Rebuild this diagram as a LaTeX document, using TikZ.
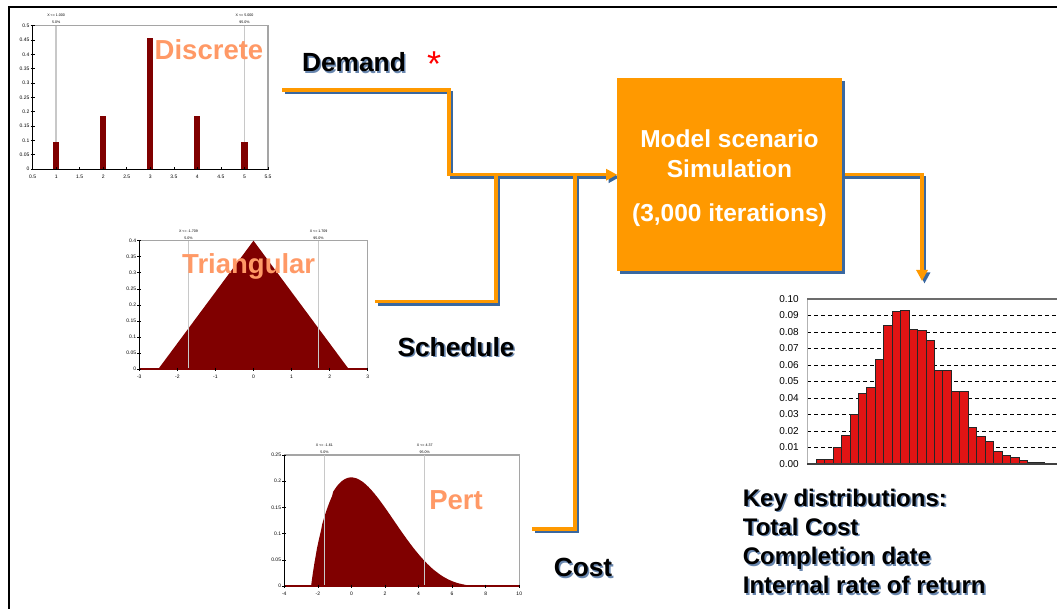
\documentclass[tikz,border=0pt]{standalone}
\usepackage{fontspec}
\setmainfont{Liberation Sans}
\usetikzlibrary{arrows.meta,shadows,backgrounds}
\definecolor{flow}{RGB}{255,153,0}
\definecolor{shade}{RGB}{58,104,160}
\definecolor{txtshade}{RGB}{105,135,175}
\definecolor{salmon}{RGB}{255,153,102}
\definecolor{dred}{RGB}{128,0,0}
\definecolor{hred}{RGB}{225,20,20}
\definecolor{pgray}{RGB}{200,200,200}
\definecolor{fgray}{RGB}{165,165,165}
\newcommand{\shtxt}[1]{\leavevmode\rlap{\kern1.6pt\raisebox{-1.6pt}{\textcolor{txtshade}{#1}}}#1}
\newcommand{\flowpaths}[2]{%
  \draw[#1,-{Triangle[length=11pt,width=11pt]}] ([#2]dsrc) -- ([#2]dturn) |- ([#2]model.west);
  \draw[#1] ([#2]ssrc) -| ([#2]sjoin);
  \draw[#1] ([#2]csrc) -| ([#2]cjoin);
  \draw[#1,-{Triangle[length=11pt,width=11pt]}] ([#2]model.east) -| ([#2]kout);
}
\begin{document}
\begin{tikzpicture}[x=1pt,y=-1pt,
  flowline/.style={draw=flow, line width=3.3pt},
  shadeline/.style={draw=shade, line width=3.3pt},
  lbl/.style={font=\fontsize{26.3}{30}\selectfont\bfseries, inner sep=0pt},
  keylbl/.style={font=\fontsize{24}{29.2}\selectfont\bfseries, inner sep=0pt},
  distlbl/.style={font=\fontsize{27.5}{30}\selectfont\bfseries, text=salmon, inner sep=0pt},
  ticklbl/.style={font=\fontsize{5}{6}\selectfont, inner sep=0.5pt},
  pctlbl/.style={font=\fontsize{3.6}{4}\selectfont, inner sep=0pt},
  histlbl/.style={font=\fontsize{10}{11}\selectfont, inner sep=0pt},
  axisline/.style={draw=black, line width=0.9pt},
  frameline/.style={draw=fgray, line width=1.2pt},
  pctline/.style={draw=pgray, line width=1.3pt},
  tickline/.style={draw=black, line width=0.6pt}
]
\useasboundingbox (0,0) rectangle (1057,609);
\draw[line width=2pt] (9,610) -- (9,7) -- (1058,7);

% ---------------- Discrete chart
\begin{scope}[shift={(9.06,169)}, x=47.08pt, y=286.6pt]
  \draw[frameline] (0.5,0.5) -- (5.5,0.5) -- (5.5,0);
  \foreach \p in {1,5} \draw[pctline] (\p,0) -- (\p,0.5);
  \foreach \p/\h in {1/0.093,2/0.184,3/0.457,4/0.184,5/0.093}
    \fill[dred] (\p-0.065,0) rectangle (\p+0.065,\h);
  \draw[axisline] (0.5,0.5) -- (0.5,0) -- (5.5,0);
  \foreach \v/\t [count=\i] in {0/0,0.05/0.05,0.1/0.1,0.15/0.15,0.2/0.2,0.25/0.25,0.3/0.3,0.35/0.35,0.4/0.4,0.45/0.45,0.5/0.5}{
    \draw[tickline] ([xshift=-2pt]0.5,\v) -- ([xshift=2pt]0.5,\v);
    \node[ticklbl, anchor=east] (dy\i) at ([xshift=-2.5pt]0.5,\v) {\t};}
  \foreach \v [count=\i] in {0.5,1,1.5,2,2.5,3,3.5,4,4.5,5,5.5}{
    \draw[tickline] ([yshift=1.5pt]\v,0) -- ([yshift=-1.5pt]\v,0);
    \node[ticklbl, anchor=north] (dx\i) at ([yshift=-5pt]\v,0) {\v};}
  \node[pctlbl] (dpa1) at ([yshift=10pt]1,0.5) {X <= 1.000};
  \node[pctlbl] (dpa2) at ([yshift=3pt]1,0.5) {5.0\%};
  \node[pctlbl] (dpb1) at ([yshift=10pt]5,0.5) {X <= 5.000};
  \node[pctlbl] (dpb2) at ([yshift=3pt]5,0.5) {95.0\%};
\end{scope}

% ---------------- Triangular chart
\begin{scope}[shift={(253.5,369)}, x=38.07pt, y=320.75pt]
  \draw[frameline] (-3,0.4) -- (3,0.4) -- (3,0);
  \fill[dred] (-2.5,0) -- (0,0.4) -- (2.5,0) -- cycle;
  \foreach \p in {-1.709,1.709} \draw[pctline] (\p,0) -- (\p,0.4);
  \draw[axisline] (-3,0.4) -- (-3,0);
  \draw[draw=dred, line width=1.2pt] (-3,0) -- (3,0);
  \foreach \v/\t [count=\i] in {0/0,0.05/0.05,0.1/0.1,0.15/0.15,0.2/0.2,0.25/0.25,0.3/0.3,0.35/0.35,0.4/0.4}{
    \draw[tickline] ([xshift=-2pt]-3,\v) -- ([xshift=2pt]-3,\v);
    \node[ticklbl, anchor=east] (ty\i) at ([xshift=-2.5pt]-3,\v) {\t};}
  \foreach \v [count=\i] in {-3,-2,-1,0,1,2,3}{
    \draw[tickline] ([yshift=1.5pt]\v,0) -- ([yshift=-1.5pt]\v,0);
    \node[ticklbl, anchor=north] (tx\i) at ([yshift=-5pt]\v,0) {\v};}
  \node[pctlbl] (tpa1) at ([yshift=9.5pt]-1.709,0.4) {X <= -1.709};
  \node[pctlbl] (tpa2) at ([yshift=2.8pt]-1.709,0.4) {5.0\%};
  \node[pctlbl] (tpb1) at ([yshift=9.5pt]1.709,0.4) {X <= 1.709};
  \node[pctlbl] (tpb2) at ([yshift=2.8pt]1.709,0.4) {95.0\%};
\end{scope}

% ---------------- Pert chart
\begin{scope}[shift={(351.4,586)}, x=16.786pt, y=524pt]
  \draw[frameline] (-4,0.25) -- (10,0.25) -- (10,0);
  \fill[dred] (-2.4,0) -- plot[domain=-2.39:7.99, samples=160]
     (\x,{exp(0.923*ln((\x+2.4)/10.4)+3.077*ln(1-(\x+2.4)/10.4))/0.556}) -- (8,0) -- cycle;
  \foreach \p in {-1.61,4.37} \draw[pctline] (\p,0) -- (\p,0.25);
  \draw[axisline] (-4,0.25) -- (-4,0);
  \draw[draw=dred, line width=1.2pt] (-4,0) -- (10,0);
  \foreach \v/\t [count=\i] in {0/0,0.05/0.05,0.1/0.1,0.15/0.15,0.2/0.2,0.25/0.25}{
    \draw[tickline] ([xshift=-2pt]-4,\v) -- ([xshift=2pt]-4,\v);
    \node[ticklbl, anchor=east] (py\i) at ([xshift=-2.5pt]-4,\v) {\t};}
  \foreach \v [count=\i] in {-4,-2,0,2,4,6,8,10}{
    \draw[tickline] ([yshift=1.5pt]\v,0) -- ([yshift=-1.5pt]\v,0);
    \node[ticklbl, anchor=north] (px\i) at ([yshift=-5pt]\v,0) {\v};}
  \node[pctlbl] (ppa1) at ([yshift=10pt]-1.61,0.25) {X <= -1.61};
  \node[pctlbl] (ppa2) at ([yshift=3pt]-1.61,0.25) {5.0\%};
  \node[pctlbl] (ppb1) at ([yshift=10pt]4.37,0.25) {X <= 4.37};
  \node[pctlbl] (ppb2) at ([yshift=3pt]4.37,0.25) {95.0\%};
\end{scope}

% ---------------- Histogram
\foreach \g in {1,...,9}
  \draw[black, line width=0.8pt, dash pattern=on 4pt off 3pt] (807,{464-16.5*\g}) -- (1057,{464-16.5*\g});
\draw[gray!60, line width=1pt] (807,299) -- (807,464);
\draw[gray!85!black, line width=1.5pt] (807,299) -- (1057,299);
\foreach \h [count=\i] in {0.003,0.003,0.010,0.0176,0.030,0.043,0.0467,0.0636,0.084,0.0923,0.093,0.0818,0.0812,0.075,0.0566,0.0566,0.0442,0.0442,0.022,0.017,0.0135,0.008,0.005,0.004,0.0024,0.001,0.001}
  \draw[fill=hred, draw=black!85, line width=0.6pt] ({816+(\i-1)*8.45},464) rectangle ++(8.45,{-1650*\h});
\draw[black!75, line width=1.2pt] (807,464) -- (1057,464);
\foreach \t [count=\i from 0] in {0.00,0.01,0.02,0.03,0.04,0.05,0.06,0.07,0.08,0.09,0.10}
  \node[histlbl, anchor=east] (hy\i) at (799,{464-16.5*\i}) {\t};

% ---------------- Distribution labels
\node[distlbl] (disc) at (209,49.3) {Discrete};
\node[distlbl] (tri) at (248.7,266.5) {Triangular};
\node[distlbl] (pert) at (456,500) {Pert};

% ---------------- Model box
\node[fill=flow, minimum width=224.4pt, minimum height=192.7pt, inner sep=0pt,
      drop shadow={shadow xshift=3pt, shadow yshift=-3pt, fill=shade, opacity=1}]
  (model) at (729.5,174.7) {};
\node[align=center, text=white, font=\fontsize{24.5}{29.3}\selectfont\bfseries, inner sep=0pt]
  (modeltxt) at (729.5,178.4) {Model scenario\\Simulation\\[15pt](3,000 iterations)};

% ---------------- Connector end points
\coordinate (dsrc) at (282,90);
\coordinate (dturn) at (449,90);
\coordinate (ssrc) at (375,301.5);
\coordinate (sjoin) at (496,174.7);
\coordinate (csrc) at (532,529);
\coordinate (cjoin) at (575,174.7);
\coordinate (kout) at (922,281);

\begin{pgfonlayer}{background}
  \flowpaths{shadeline}{xshift=2.5pt,yshift=-2.5pt}
  \flowpaths{flowline}{xshift=0pt}
\end{pgfonlayer}

% ---------------- Labels
\node[lbl] (demand) at (354,63.3) {\shtxt{Demand}};
\node[font=\fontsize{36}{36}\selectfont, text=red, anchor=base, inner sep=0pt] (star) at (434,76.5) {*};
\node[lbl] (schedule) at (456,347.5) {\shtxt{Schedule}};
\node[lbl] (cost) at (583,568.3) {\shtxt{Cost}};
\node[keylbl, anchor=west, align=left] (key) at (742.7,542.2)
  {\shtxt{Key distributions:}\\\shtxt{Total Cost}\\\shtxt{Completion date}\\\shtxt{Internal rate of return}};
\end{tikzpicture}
\end{document}
